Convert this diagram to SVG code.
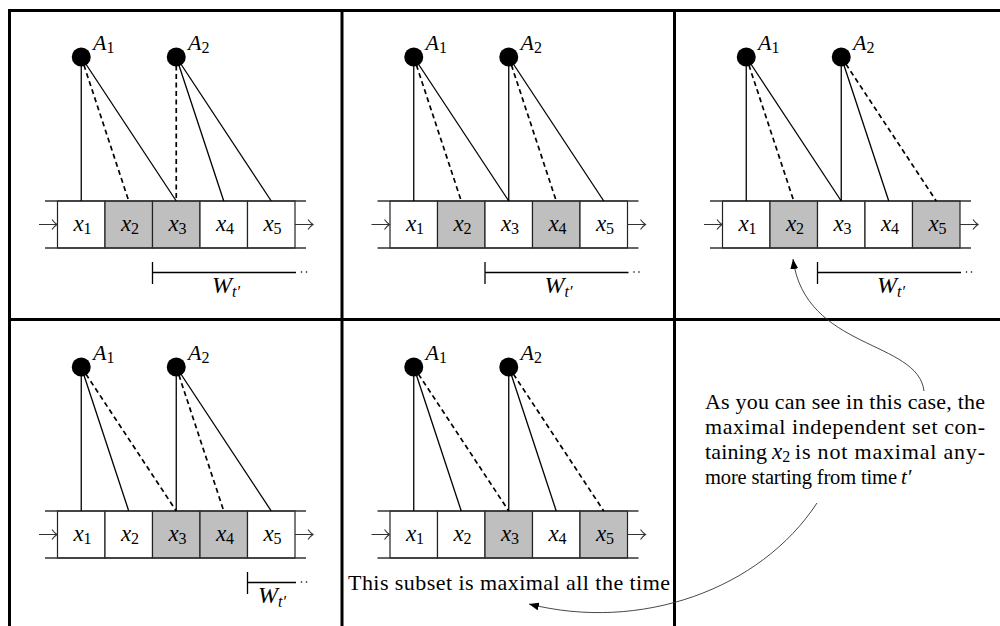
<svg xmlns="http://www.w3.org/2000/svg" width="1000" height="626" viewBox="0 0 1000 626" font-family="'Liberation Serif', 'DejaVu Serif', serif">
<style>
.grid{stroke:#000;stroke-width:3;fill:none}
.rail{stroke:#333;stroke-width:1.5}
.cell{stroke:#222;stroke-width:1.2;fill:#fff}
.on{fill:#bfbfbf}
.s{stroke:#000;stroke-width:1.3;fill:none}
.d{stroke:#000;stroke-width:1.7;stroke-dasharray:5 3.5;fill:none}
.io{stroke:#333;stroke-width:1.1;fill:none}
.br{stroke:#000;stroke-width:1.3;fill:none}
.curve{stroke:#333;stroke-width:0.9;fill:none;marker-end:url(#ah)}
text{font-family:'Liberation Serif','DejaVu Serif',serif;fill:#000}
.m{font-style:italic;font-size:23px}
.mt{font-style:italic;font-size:21px}
.a{font-style:italic;font-size:22px}
.w{font-style:italic;font-size:24px}
.sub{font-size:16px;font-style:normal}
.subi{font-size:16px;font-style:italic}
.txt{font-size:22px}
.txt2{font-size:20.5px}
</style>
<defs>
<marker id="ah" viewBox="0 0 10 8" refX="10" refY="4" markerWidth="10" markerHeight="8" markerUnits="userSpaceOnUse" orient="auto"><path d="M0 0L10 4L0 8Z" fill="#000"/></marker>
</defs>
<rect width="1000" height="626" fill="#fff"/>
<g id="grid" class="grid">
<line x1="8" y1="10.5" x2="1000" y2="10.5"/>
<line x1="9.5" y1="9" x2="9.5" y2="626"/>
<line x1="342" y1="9" x2="342" y2="626"/>
<line x1="674.5" y1="9" x2="674.5" y2="626"/>
<line x1="8" y1="319.5" x2="1000" y2="319.5"/>
</g>

<!-- Panel 1,1 -->
<g id="panel11">
<g id="p11-strip">
<g id="p11-x1"><rect class="cell" x="57.5" y="201" width="47.5" height="47"/><text class="m" x="82.5" y="231" text-anchor="middle">x<tspan class="sub" dy="3">1</tspan></text></g>
<g id="p11-x2"><rect class="cell on" x="105" y="201" width="47.5" height="47"/><text class="m" x="130" y="231" text-anchor="middle">x<tspan class="sub" dy="3">2</tspan></text></g>
<g id="p11-x3"><rect class="cell on" x="152.5" y="201" width="47.5" height="47"/><text class="m" x="177.5" y="231" text-anchor="middle">x<tspan class="sub" dy="3">3</tspan></text></g>
<g id="p11-x4"><rect class="cell" x="200" y="201" width="47.5" height="47"/><text class="m" x="225" y="231" text-anchor="middle">x<tspan class="sub" dy="3">4</tspan></text></g>
<g id="p11-x5"><rect class="cell" x="247.5" y="201" width="47.5" height="47"/><text class="m" x="272.5" y="231" text-anchor="middle">x<tspan class="sub" dy="3">5</tspan></text></g>
<line class="rail" x1="45" y1="201" x2="306" y2="201"/><line class="rail" x1="45" y1="248" x2="306" y2="248"/>
</g>
<g id="p11-connectors">
<path class="io" d="M39 224.5H57M52 219.5Q54.5 223 57 224.5Q54.5 226 52 229.5"/>
<path class="io" d="M295 224.5H313M308 219.5Q310.5 223 313 224.5Q310.5 226 308 229.5"/>
<line class="s" x1="81.25" y1="57" x2="81.25" y2="201"/>
<line class="d" x1="81.25" y1="57" x2="128.75" y2="201"/>
<line class="s" x1="81.25" y1="57" x2="176.25" y2="201"/>
<line class="d" x1="176.25" y1="57" x2="176.25" y2="201"/>
<line class="s" x1="176.25" y1="57" x2="223.75" y2="201"/>
<line class="s" x1="176.25" y1="57" x2="271.25" y2="201"/>
</g>
<g id="p11-A1"><circle cx="81.25" cy="57" r="9.5"/><text class="a" x="93" y="50">A<tspan class="sub" dy="3">1</tspan></text></g>
<g id="p11-A2"><circle cx="176.25" cy="57" r="9.5"/><text class="a" x="188" y="50">A<tspan class="sub" dy="3">2</tspan></text></g>
<g id="p11-W"><path class="br" d="M152.5 262V284M152.5 272.5H296"/><circle cx="301.5" cy="272" r="0.8"/><circle cx="306.5" cy="272" r="0.8"/><text class="w" x="226" y="293" text-anchor="middle">W<tspan class="subi" dy="4">t′</tspan></text></g>
</g>

<!-- Panel 1,2 -->
<g id="panel12" transform="translate(332.5,0)">
<g id="p12-strip">
<g id="p12-x1"><rect class="cell" x="57.5" y="201" width="47.5" height="47"/><text class="m" x="82.5" y="231" text-anchor="middle">x<tspan class="sub" dy="3">1</tspan></text></g>
<g id="p12-x2"><rect class="cell on" x="105" y="201" width="47.5" height="47"/><text class="m" x="130" y="231" text-anchor="middle">x<tspan class="sub" dy="3">2</tspan></text></g>
<g id="p12-x3"><rect class="cell" x="152.5" y="201" width="47.5" height="47"/><text class="m" x="177.5" y="231" text-anchor="middle">x<tspan class="sub" dy="3">3</tspan></text></g>
<g id="p12-x4"><rect class="cell on" x="200" y="201" width="47.5" height="47"/><text class="m" x="225" y="231" text-anchor="middle">x<tspan class="sub" dy="3">4</tspan></text></g>
<g id="p12-x5"><rect class="cell" x="247.5" y="201" width="47.5" height="47"/><text class="m" x="272.5" y="231" text-anchor="middle">x<tspan class="sub" dy="3">5</tspan></text></g>
<line class="rail" x1="45" y1="201" x2="306" y2="201"/><line class="rail" x1="45" y1="248" x2="306" y2="248"/>
</g>
<g id="p12-connectors">
<path class="io" d="M39 224.5H57M52 219.5Q54.5 223 57 224.5Q54.5 226 52 229.5"/>
<path class="io" d="M295 224.5H313M308 219.5Q310.5 223 313 224.5Q310.5 226 308 229.5"/>
<line class="s" x1="81.25" y1="57" x2="81.25" y2="201"/>
<line class="d" x1="81.25" y1="57" x2="128.75" y2="201"/>
<line class="s" x1="81.25" y1="57" x2="176.25" y2="201"/>
<line class="s" x1="176.25" y1="57" x2="176.25" y2="201"/>
<line class="d" x1="176.25" y1="57" x2="223.75" y2="201"/>
<line class="s" x1="176.25" y1="57" x2="271.25" y2="201"/>
</g>
<g id="p12-A1"><circle cx="81.25" cy="57" r="9.5"/><text class="a" x="93" y="50">A<tspan class="sub" dy="3">1</tspan></text></g>
<g id="p12-A2"><circle cx="176.25" cy="57" r="9.5"/><text class="a" x="188" y="50">A<tspan class="sub" dy="3">2</tspan></text></g>
<g id="p12-W"><path class="br" d="M152.5 262V284M152.5 272.5H296"/><circle cx="301.5" cy="272" r="0.8"/><circle cx="306.5" cy="272" r="0.8"/><text class="w" x="226" y="293" text-anchor="middle">W<tspan class="subi" dy="4">t′</tspan></text></g>
</g>

<!-- Panel 1,3 -->
<g id="panel13" transform="translate(665,0)">
<g id="p13-strip">
<g id="p13-x1"><rect class="cell" x="57.5" y="201" width="47.5" height="47"/><text class="m" x="82.5" y="231" text-anchor="middle">x<tspan class="sub" dy="3">1</tspan></text></g>
<g id="p13-x2"><rect class="cell on" x="105" y="201" width="47.5" height="47"/><text class="m" x="130" y="231" text-anchor="middle">x<tspan class="sub" dy="3">2</tspan></text></g>
<g id="p13-x3"><rect class="cell" x="152.5" y="201" width="47.5" height="47"/><text class="m" x="177.5" y="231" text-anchor="middle">x<tspan class="sub" dy="3">3</tspan></text></g>
<g id="p13-x4"><rect class="cell" x="200" y="201" width="47.5" height="47"/><text class="m" x="225" y="231" text-anchor="middle">x<tspan class="sub" dy="3">4</tspan></text></g>
<g id="p13-x5"><rect class="cell on" x="247.5" y="201" width="47.5" height="47"/><text class="m" x="272.5" y="231" text-anchor="middle">x<tspan class="sub" dy="3">5</tspan></text></g>
<line class="rail" x1="45" y1="201" x2="306" y2="201"/><line class="rail" x1="45" y1="248" x2="306" y2="248"/>
</g>
<g id="p13-connectors">
<path class="io" d="M39 224.5H57M52 219.5Q54.5 223 57 224.5Q54.5 226 52 229.5"/>
<path class="io" d="M295 224.5H313M308 219.5Q310.5 223 313 224.5Q310.5 226 308 229.5"/>
<line class="s" x1="81.25" y1="57" x2="81.25" y2="201"/>
<line class="d" x1="81.25" y1="57" x2="128.75" y2="201"/>
<line class="s" x1="81.25" y1="57" x2="176.25" y2="201"/>
<line class="s" x1="176.25" y1="57" x2="176.25" y2="201"/>
<line class="s" x1="176.25" y1="57" x2="223.75" y2="201"/>
<line class="d" x1="176.25" y1="57" x2="271.25" y2="201"/>
</g>
<g id="p13-A1"><circle cx="81.25" cy="57" r="9.5"/><text class="a" x="93" y="50">A<tspan class="sub" dy="3">1</tspan></text></g>
<g id="p13-A2"><circle cx="176.25" cy="57" r="9.5"/><text class="a" x="188" y="50">A<tspan class="sub" dy="3">2</tspan></text></g>
<g id="p13-W"><path class="br" d="M152.5 262V284M152.5 272.5H296"/><circle cx="301.5" cy="272" r="0.8"/><circle cx="306.5" cy="272" r="0.8"/><text class="w" x="226" y="293" text-anchor="middle">W<tspan class="subi" dy="4">t′</tspan></text></g>
</g>

<!-- Panel 2,1 -->
<g id="panel21" transform="translate(0,310)">
<g id="p21-strip">
<g id="p21-x1"><rect class="cell" x="57.5" y="201" width="47.5" height="47"/><text class="m" x="82.5" y="231" text-anchor="middle">x<tspan class="sub" dy="3">1</tspan></text></g>
<g id="p21-x2"><rect class="cell" x="105" y="201" width="47.5" height="47"/><text class="m" x="130" y="231" text-anchor="middle">x<tspan class="sub" dy="3">2</tspan></text></g>
<g id="p21-x3"><rect class="cell on" x="152.5" y="201" width="47.5" height="47"/><text class="m" x="177.5" y="231" text-anchor="middle">x<tspan class="sub" dy="3">3</tspan></text></g>
<g id="p21-x4"><rect class="cell on" x="200" y="201" width="47.5" height="47"/><text class="m" x="225" y="231" text-anchor="middle">x<tspan class="sub" dy="3">4</tspan></text></g>
<g id="p21-x5"><rect class="cell" x="247.5" y="201" width="47.5" height="47"/><text class="m" x="272.5" y="231" text-anchor="middle">x<tspan class="sub" dy="3">5</tspan></text></g>
<line class="rail" x1="45" y1="201" x2="306" y2="201"/><line class="rail" x1="45" y1="248" x2="306" y2="248"/>
</g>
<g id="p21-connectors">
<path class="io" d="M39 224.5H57M52 219.5Q54.5 223 57 224.5Q54.5 226 52 229.5"/>
<path class="io" d="M295 224.5H313M308 219.5Q310.5 223 313 224.5Q310.5 226 308 229.5"/>
<line class="s" x1="81.25" y1="57" x2="81.25" y2="201"/>
<line class="s" x1="81.25" y1="57" x2="128.75" y2="201"/>
<line class="d" x1="81.25" y1="57" x2="176.25" y2="201"/>
<line class="s" x1="176.25" y1="57" x2="176.25" y2="201"/>
<line class="d" x1="176.25" y1="57" x2="223.75" y2="201"/>
<line class="s" x1="176.25" y1="57" x2="271.25" y2="201"/>
</g>
<g id="p21-A1"><circle cx="81.25" cy="57" r="9.5"/><text class="a" x="93" y="50">A<tspan class="sub" dy="3">1</tspan></text></g>
<g id="p21-A2"><circle cx="176.25" cy="57" r="9.5"/><text class="a" x="188" y="50">A<tspan class="sub" dy="3">2</tspan></text></g>
<g id="p21-W"><path class="br" d="M247.5 262V284M247.5 272.5H296"/><circle cx="301.5" cy="272" r="0.8"/><circle cx="306.5" cy="272" r="0.8"/><text class="w" x="272" y="293" text-anchor="middle">W<tspan class="subi" dy="4">t′</tspan></text></g>
</g>

<!-- Panel 2,2 -->
<g id="panel22" transform="translate(332.5,310)">
<g id="p22-strip">
<g id="p22-x1"><rect class="cell" x="57.5" y="201" width="47.5" height="47"/><text class="m" x="82.5" y="231" text-anchor="middle">x<tspan class="sub" dy="3">1</tspan></text></g>
<g id="p22-x2"><rect class="cell" x="105" y="201" width="47.5" height="47"/><text class="m" x="130" y="231" text-anchor="middle">x<tspan class="sub" dy="3">2</tspan></text></g>
<g id="p22-x3"><rect class="cell on" x="152.5" y="201" width="47.5" height="47"/><text class="m" x="177.5" y="231" text-anchor="middle">x<tspan class="sub" dy="3">3</tspan></text></g>
<g id="p22-x4"><rect class="cell" x="200" y="201" width="47.5" height="47"/><text class="m" x="225" y="231" text-anchor="middle">x<tspan class="sub" dy="3">4</tspan></text></g>
<g id="p22-x5"><rect class="cell on" x="247.5" y="201" width="47.5" height="47"/><text class="m" x="272.5" y="231" text-anchor="middle">x<tspan class="sub" dy="3">5</tspan></text></g>
<line class="rail" x1="45" y1="201" x2="306" y2="201"/><line class="rail" x1="45" y1="248" x2="306" y2="248"/>
</g>
<g id="p22-connectors">
<path class="io" d="M39 224.5H57M52 219.5Q54.5 223 57 224.5Q54.5 226 52 229.5"/>
<path class="io" d="M295 224.5H313M308 219.5Q310.5 223 313 224.5Q310.5 226 308 229.5"/>
<line class="s" x1="81.25" y1="57" x2="81.25" y2="201"/>
<line class="s" x1="81.25" y1="57" x2="128.75" y2="201"/>
<line class="d" x1="81.25" y1="57" x2="176.25" y2="201"/>
<line class="s" x1="176.25" y1="57" x2="176.25" y2="201"/>
<line class="s" x1="176.25" y1="57" x2="223.75" y2="201"/>
<line class="d" x1="176.25" y1="57" x2="271.25" y2="201"/>
</g>
<g id="p22-A1"><circle cx="81.25" cy="57" r="9.5"/><text class="a" x="93" y="50">A<tspan class="sub" dy="3">1</tspan></text></g>
<g id="p22-A2"><circle cx="176.25" cy="57" r="9.5"/><text class="a" x="188" y="50">A<tspan class="sub" dy="3">2</tspan></text></g>
</g>

<g id="note-subset"><text class="txt" x="348" y="590" textLength="322" lengthAdjust="spacing">This subset is maximal all the time</text></g>

<g id="note-case">
<text class="txt" x="705" y="409" textLength="280" lengthAdjust="spacing">As you can see in this case, the</text>
<text class="txt" x="705" y="434" textLength="280" lengthAdjust="spacing">maximal independent set con-</text>
<text class="txt" x="705" y="459" textLength="62" lengthAdjust="spacing">taining</text>
<text class="m" x="772" y="459">x<tspan class="sub" dy="3">2</tspan></text>
<text class="txt" x="795" y="459" textLength="190" lengthAdjust="spacing">is not maximal any-</text>
<text class="txt2" x="705" y="484" textLength="192" lengthAdjust="spacing">more starting from time</text>
<text class="mt" x="901" y="484">t′</text>
</g>

<g id="connectors">
<path class="curve" d="M924 391C918 340 805 350 793 259"/>
<path class="curve" d="M817 503C760 590 640 632 529 604"/>
</g>
</svg>
